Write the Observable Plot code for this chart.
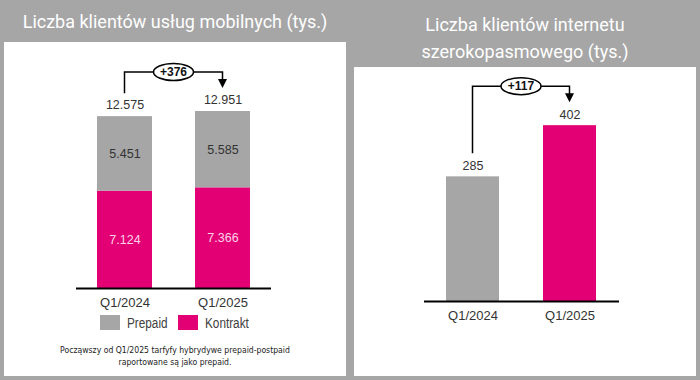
<!DOCTYPE html>
<html><head><meta charset="utf-8">
<script src="https://cdn.jsdelivr.net/npm/d3@7"></script>
<script src="https://cdn.jsdelivr.net/npm/@observablehq/plot@0.6"></script>
<style>
body{margin:0;width:700px;height:380px;background:#a6a6a6;position:relative;overflow:hidden;font-family:"Liberation Sans",Arial,sans-serif;}
.panel{position:absolute;background:#fff;}
.title{position:absolute;color:#fff;text-align:center;font-family:Roboto,"Liberation Sans",sans-serif;font-weight:400;font-size:18px;}
.chart{position:absolute;}
.legend{position:absolute;top:315px;height:15px;display:flex;align-items:center;font-family:"Liberation Sans",Arial,sans-serif;font-size:14px;color:#404040;white-space:nowrap;}
.legend span.t{display:inline-block;transform:scaleX(0.84);transform-origin:left center;}
.sw{display:inline-block;width:20px;height:15px;margin-right:7px;}
.note{position:absolute;left:4px;width:342px;top:344px;text-align:center;font-family:"DejaVu Sans Condensed","Liberation Sans",sans-serif;font-size:8.6px;line-height:12px;color:#222;}
</style></head>
<body>
<div class="panel" style="left:4px;top:42px;width:342px;height:334px"></div>
<div class="panel" style="left:354px;top:67px;width:342px;height:309px"></div>
<div class="title" style="left:4px;top:0;width:342px;line-height:43px">Liczba klientów usług mobilnych (tys.)</div>
<div class="title" style="left:354px;top:11px;width:342px;line-height:27px">Liczba klientów internetu<br>szerokopasmowego (tys.)</div>
<div id="left" class="chart" style="left:4px;top:42px"></div>
<div id="right" class="chart" style="left:354px;top:67px"></div>
<div class="legend" style="left:100px"><span class="sw" style="background:#a6a6a6"></span><span class="t">Prepaid</span></div>
<div class="legend" style="left:178px"><span class="sw" style="background:#e20074"></span><span class="t">Kontrakt</span></div>
<div class="note">Począwszy od Q1/2025 tarfyfy hybrydywe prepaid-postpaid<br>raportowane są jako prepaid.</div>
<script>
const quarters = ["Q1/2024", "Q1/2025"];
const kontrakt = [7124, 7366];
const prepaid = [5451, 5585];
const mobileTotals = [12575, 12951];
const mobileChange = "+376";
const broadband = [285, 402];
const broadbandChange = "+117";
const seriesNames = ["Kontrakt", "Prepaid"];

const GRAY = "#a6a6a6", PINK = "#e20074";
const fmt = v => d3.format(",")(v).replace(/,/g, ".");

const mobile = [
  ...quarters.map((q, i) => ({quarter: q, series: seriesNames[0], value: kontrakt[i]})),
  ...quarters.map((q, i) => ({quarter: q, series: seriesNames[1], value: prepaid[i]}))
];
const mobileTot = quarters.map((q, i) => ({quarter: q, value: mobileTotals[i]}));
const bb = quarters.map((q, i) => ({quarter: q, value: broadband[i]}));

function bracket(catA, catB, vA, vB, label) {
  return (index, scales) => {
    const x = scales.x, y = scales.y;
    const bw = x.bandwidth ? x.bandwidth() : 0;
    const xa = x(catA) + bw / 2, xb = x(catB) + bw / 2;
    const ya = y(vA) - 23, yb = y(vB) - 23;
    const top = Math.min(y(vA), y(vB)) - 39;
    const g = d3.create("svg:g");
    g.append("path").attr("d", `M${xa},${ya}V${top}H${xb}V${yb - 8}`)
      .attr("fill", "none").attr("stroke", "#000").attr("stroke-width", 1.5);
    g.append("path").attr("d", `M${xb - 4.5},${yb - 9}L${xb + 4.5},${yb - 9}L${xb},${yb}Z`).attr("fill", "#000");
    const xm = (xa + xb) / 2;
    g.append("ellipse").attr("cx", xm).attr("cy", top).attr("rx", 20).attr("ry", 8.5)
      .attr("fill", "#fff").attr("stroke", "#000").attr("stroke-width", 1.5);
    g.append("text").attr("x", xm).attr("y", top).attr("dy", "0.36em").attr("text-anchor", "middle")
      .attr("font-size", 12).attr("font-weight", "bold").attr("fill", "#111").text(label);
    return g.node();
  };
}

const common = {fontFamily: "'Liberation Sans', Arial, sans-serif", fontSize: "13px", color: "#404040", background: "transparent", overflow: "visible"};

const left = Plot.plot({
  width: 342, height: 270,
  marginTop: 0, marginBottom: 24, marginLeft: 72, marginRight: 75,
  style: common,
  x: {domain: quarters, paddingInner: 0.44, paddingOuter: 0.21, axis: null},
  y: {domain: [0, 18000], axis: null},
  color: {domain: ["Prepaid", "Kontrakt"], range: [GRAY, PINK]},
  marks: [
    Plot.barY(mobile, {x: "quarter", y: "value", fill: "series", order: seriesNames}),
    Plot.text(mobile, Plot.stackY({x: "quarter", y: "value", z: "series", order: seriesNames,
      text: d => fmt(d.value), fontSize: 12.5,
      fill: d => d.series === "Kontrakt" ? "#fcd3e8" : "#333"})),
    Plot.text(mobileTot, {x: "quarter", y: "value", text: d => fmt(d.value), dy: -12, fontSize: 12.5, fill: "#333"}),
    Plot.ruleY([0], {stroke: "#000", strokeWidth: 2}),
    Plot.axisX({tickSize: 0, tickPadding: 9, label: null, fontSize: 13, fill: "#333"}),
    bracket(quarters[0], quarters[1], mobileTotals[0], mobileTotals[1], mobileChange)
  ]
});
document.getElementById("left").append(left);

const right = Plot.plot({
  width: 342, height: 260,
  marginTop: 0, marginBottom: 26, marginLeft: 70, marginRight: 77,
  style: common,
  x: {domain: quarters, paddingInner: 0.45, paddingOuter: 0.224, axis: null},
  y: {domain: [0, 535], axis: null},
  color: {domain: quarters, range: [GRAY, PINK]},
  marks: [
    Plot.barY(bb, {x: "quarter", y: "value", fill: "quarter"}),
    Plot.text(bb, {x: "quarter", y: "value", text: d => fmt(d.value), dy: -11, fontSize: 12.5, fill: "#333"}),
    Plot.ruleY([0], {stroke: "#000", strokeWidth: 2}),
    Plot.axisX({tickSize: 0, tickPadding: 9, label: null, fontSize: 13, fill: "#333"}),
    bracket(quarters[0], quarters[1], broadband[0], broadband[1], broadbandChange)
  ]
});
document.getElementById("right").append(right);
</script>
</body></html>
